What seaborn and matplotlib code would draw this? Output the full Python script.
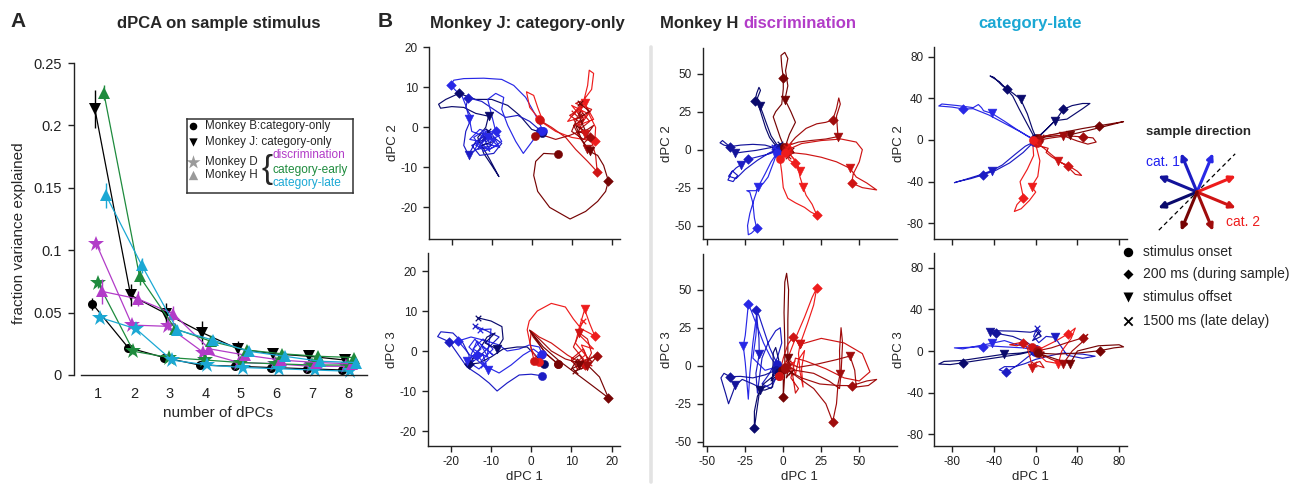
import matplotlib
matplotlib.use('Agg')
import matplotlib.pyplot as plt
import seaborn as sns
import numpy as np

sns.set_style('ticks')
plt.rcParams['font.family'] = ['Liberation Sans', 'DejaVu Sans']
plt.rcParams['axes.unicode_minus'] = False

W, H = 1303, 484

# ---------------- panel A: fraction of variance per dPC ----------------
N_DPC = [1, 2, 3, 4, 5, 6, 7, 8]
B_ONLY = [0.057, 0.022, 0.014, 0.008, 0.007, 0.006, 0.005, 0.004]
J_ONLY = [0.213, 0.064, 0.049, 0.034, 0.021, 0.017, 0.015, 0.012]
D_DISC = [0.105, 0.040, 0.039, 0.018, 0.010, 0.009, 0.007, 0.007]
D_EARLY = [0.074, 0.019, 0.014, 0.012, 0.010, 0.009, 0.008, 0.008]
D_LATE = [0.046, 0.037, 0.012, 0.008, 0.006, 0.005, 0.004, 0.003]
H_DISC = [0.067, 0.061, 0.049, 0.021, 0.016, 0.012, 0.010, 0.009]
H_EARLY = [0.226, 0.079, 0.037, 0.027, 0.020, 0.017, 0.015, 0.014]
H_LATE = [0.144, 0.088, 0.036, 0.028, 0.019, 0.015, 0.011, 0.010]

B_ERR = [0.005, 0.003, 0.002, 0.001, 0.001, 0.001, 0.001, 0.001]
J_ERR = [0.015, 0.009, 0.009, 0.009, 0.006, 0.004, 0.003, 0.002]
D_DISC_ERR = [0.004, 0.003, 0.003, 0.002, 0.001, 0.001, 0.001, 0.001]
D_EARLY_ERR = [0.004, 0.002, 0.002, 0.001, 0.001, 0.001, 0.001, 0.001]
D_LATE_ERR = [0.003, 0.002, 0.001, 0.001, 0.001, 0.001, 0.001, 0.001]
H_DISC_ERR = [0.010, 0.006, 0.006, 0.004, 0.002, 0.002, 0.002, 0.001]
H_EARLY_ERR = [0.006, 0.007, 0.004, 0.003, 0.002, 0.002, 0.002, 0.002]
H_LATE_ERR = [0.010, 0.006, 0.004, 0.003, 0.002, 0.002, 0.002, 0.002]

DISC_C = '#b23cc8'
EARLY_C = '#1e8b3d'
LATE_C = '#1ba8d4'

# ---------------- panel B: trajectories ----------------
# each trajectory: (direction index, onset->200ms, ->stimulus offset, ->1500ms)
DIR_COLORS = ['#2828e6', '#1c1cc4', '#13139a', '#0a0a6c',
              '#ee1c1c', '#cf1414', '#a00c0c', '#760404']
ARROW_ANGLES = [67.5, 112.5, 157.5, 202.5, 22.5, 337.5, 292.5, 247.5]
BOUNDARY_ANGLE = 45

J12 = [
    (0, [(2.9, -1.0), (1.0, 3.0), (-1.5, 7.5), (-4.5, 10.5), (-7.5, 12.0), (-12.0, 12.3), (-17.0, 12.2), (-19.5, 11.8), (-20.3, 10.6)],
        [(-19.0, 9.2), (-17.5, 8.0), (-16.5, 5.5), (-15.6, 2.2)],
        [(-15.0, -1.0), (-12.5, -2.0), (-14.0, -4.5), (-11.0, -5.5), (-9.0, -3.0), (-12.0, -2.5), (-10.5, -6.0), (-13.0, -3.5),
         (-15.5, -3.0), (-13.0, -0.5), (-10.0, -1.5), (-8.0, -5.0), (-11.5, -4.0), (-14.5, -6.0), (-12.0, -1.5)]),
    (3, [(2.5, -1.3), (0.0, -0.5), (-3.0, 3.0), (-6.0, 5.5), (-10.0, 7.0), (-14.0, 7.0), (-18.2, 8.5)],
        [(-21.5, 7.0), (-23.3, 5.8), (-22.8, 4.8), (-20.0, 5.2), (-17.0, 5.0), (-14.0, 3.5), (-10.8, 2.8)],
        [(-11.5, 0.0), (-13.5, -2.5), (-12.0, -6.5), (-10.0, -9.5), (-8.2, -12.3), (-10.5, -8.0), (-12.5, -4.5), (-9.5, -3.5), (-11.0, -1.0)]),
    (1, [(2.2, -0.8), (-0.5, 1.5), (-3.5, 3.0), (-6.5, 2.5), (-9.5, 4.5), (-12.5, 6.5), (-15.9, 7.4)],
        [(-16.5, 5.0), (-15.0, 2.5), (-16.5, -1.0), (-17.0, -4.5), (-15.8, -6.9)],
        [(-14.0, -3.5), (-11.5, -2.0), (-13.5, -5.5), (-10.0, -4.5), (-12.5, -1.5), (-9.5, -2.5), (-7.5, -4.0), (-9.5, -6.5),
         (-13.0, -7.0), (-15.0, -4.5), (-12.0, -3.0)]),
    (0, [(2.7, -1.0), (0.5, -3.0), (-2.1, -6.5), (-4.0, -3.5), (-6.0, 0.5), (-7.5, 4.5), (-7.0, 7.5), (-9.0, 8.5), (-11.0, 7.0), (-10.0, 3.0), (-9.0, -1.0)],
        [(-7.5, -3.5), (-10.5, -5.5), (-13.0, -4.5), (-11.0, -2.5)],
        [(-8.5, -4.5), (-12.0, -6.0), (-14.5, -2.5), (-11.5, -0.5), (-8.0, -2.0), (-10.0, -3.0)]),
    (4, [(1.9, 2.1), (-0.5, 5.0), (-1.3, 8.9), (0.5, 8.0), (1.5, 5.0), (3.0, 1.0), (6.0, -1.0), (10.0, -2.5), (13.0, -3.0), (15.8, -3.4)],
        [(16.0, 0.0), (14.5, 3.0), (13.3, 6.0)],
        [(11.0, 4.0), (9.0, 1.5), (12.5, 2.5), (10.0, 5.5), (14.0, 3.5), (11.5, 0.5), (15.5, 2.0), (13.0, 6.5), (14.0, 10.5), (14.4, 14.3), (15.5, 13.5), (15.0, 9.5), (13.5, 7.5), (12.0, 4.5)]),
    (5, [(2.0, 1.8), (5.0, 0.0), (8.5, -2.5), (11.0, -5.5), (14.0, -8.5), (16.4, -11.1)],
        [(16.0, -7.0), (15.0, -3.5), (13.3, -1.6)],
        [(11.5, 1.0), (13.0, 3.0), (10.5, 2.0), (12.0, -0.5), (14.5, 1.5), (12.0, 4.5), (9.5, 3.0), (12.5, 1.0),
         (15.0, 4.5), (11.0, 6.0), (13.5, 7.0), (10.5, 3.5)]),
    (6, [(0.8, -2.2), (3.0, -2.0), (6.0, -3.0), (9.5, -2.0), (12.0, -1.0), (14.5, -2.5)],
        [(13.0, -4.0), (13.9, -5.3)],
        [(12.0, -2.5), (10.5, 0.5), (13.0, 2.0), (11.5, -1.5), (14.0, -0.5), (15.5, 0.5), (13.0, -3.0), (10.0, -1.0), (12.5, 5.0), (12.0, 3.0)]),
    (7, [(6.7, -6.7), (3.0, -6.5), (1.0, -8.5), (0.5, -12.0), (1.5, -16.0), (4.5, -20.0), (9.6, -22.9), (13.5, -21.0), (16.5, -18.5), (18.5, -16.0), (19.2, -13.4)],
        [(18.0, -9.5), (16.5, -7.0), (14.5, -6.0)],
        [(12.5, -3.0), (11.0, 0.5), (13.5, -1.0), (12.0, 2.5), (14.5, 4.0), (12.0, 6.0)]),
]

J13 = [
    (0, [(2.7, -0.8), (2.0, 1.0), (-0.5, 1.5), (-3.0, 0.5), (-6.0, 0.0), (-8.0, 1.5), (-11.0, 2.5), (-15.0, 3.5), (-18.2, 2.5)],
        [(-16.5, 0.5), (-14.5, -2.0), (-12.0, -1.0), (-10.8, -4.8)],
        [(-12.5, -2.5), (-9.5, 0.5), (-12.0, 3.0), (-14.5, 0.5), (-11.0, -1.5), (-10.0, 5.5), (-12.7, 5.3)]),
    (1, [(2.7, -6.2), (0.0, -5.8), (-3.0, -6.0), (-6.0, -8.0), (-8.5, -10.0), (-10.5, -8.0), (-13.0, -6.0), (-16.0, -4.0), (-20.4, 2.3)],
        [(-23.3, 3.6), (-22.5, 4.8), (-19.5, 4.5), (-17.0, 2.0), (-15.5, -1.0), (-15.4, -3.3)],
        [(-13.0, -1.5), (-10.5, 1.0), (-8.0, 3.5), (-11.0, 5.0), (-14.1, 6.3)]),
    (3, [(3.1, -3.3), (1.0, -1.0), (-1.0, 1.0), (-3.5, 1.0), (-7.0, 0.5), (-10.0, -1.5), (-13.0, -3.0), (-15.4, -3.3)],
        [(-14.0, -1.0), (-12.5, 1.0), (-11.0, 3.5), (-9.0, 4.5), (-11.5, 2.0), (-8.5, 0.5)],
        [(-7.0, 3.0), (-7.3, 6.1), (-10.0, 7.5), (-13.3, 8.3)]),
    (0, [(2.5, -1.0), (0.5, 0.5), (-2.0, -1.0), (-5.0, -3.5), (-8.0, -5.5), (-11.0, -4.0), (-13.5, -1.0)],
        [(-15.5, 1.0), (-14.0, 3.0), (-12.5, 0.5), (-16.0, -2.5)],
        [(-13.0, -4.5), (-10.5, -2.0), (-12.5, 1.5), (-9.5, -1.0), (-13.5, 2.5), (-15.0, -1.0), (-12.0, -3.5)]),
    (4, [(1.9, -2.8), (0.0, 0.5), (-1.0, 5.3), (-0.5, 7.5), (1.5, 10.0), (5.0, 11.9), (8.5, 11.0), (10.5, 8.0), (12.5, 5.5), (15.8, 3.8)],
        [(14.5, 7.0), (13.3, 10.4)],
        [(12.0, 6.0), (11.0, 2.0), (13.5, -1.0), (11.0, -3.0), (14.0, -2.0), (12.5, 1.5), (15.5, 0.5), (11.5, 4.5), (13.0, 7.5)]),
    (5, [(0.7, -2.4), (-0.3, 2.0), (0.0, 5.0), (2.0, 3.5), (5.0, 2.0), (9.0, -1.0), (11.5, -2.5), (13.5, -3.5)],
        [(15.0, -0.5), (14.0, 3.0), (12.0, 4.5)],
        [(10.5, 1.0), (13.0, -2.0), (11.5, -4.5), (10.0, -2.0), (13.0, 0.5), (14.5, -3.0)]),
    (6, [(6.7, -3.3), (4.0, -1.0), (0.5, 3.5), (-0.4, 5.2), (2.5, 2.5), (5.0, 0.0), (8.5, -2.0), (12.0, -3.0), (16.4, -1.2)],
        [(15.0, -3.0), (13.9, -3.75)],
        [(12.0, -1.0), (10.0, -2.5), (12.5, -4.5), (14.5, -2.0)]),
    (7, [(6.7, -3.3), (3.5, -0.5), (-0.4, 5.2), (3.0, 1.0), (7.0, -2.5), (11.0, -5.5), (15.0, -8.5), (19.2, -11.7)],
        [(17.0, -6.5), (14.5, -4.0), (12.0, -3.5)],
        [(10.0, -4.5), (11.5, -2.0), (13.5, -4.0), (11.0, -5.0)]),
]

H12 = [
    (3, [(-3.0, 1.0), (-6.0, 4.0), (-9.0, 8.0), (-11.5, 14.0), (-14.0, 22.0), (-16.5, 30.0), (-18.6, 32.0)],
        [(-17.5, 37.0), (-16.0, 41.0), (-15.0, 39.0), (-17.0, 34.0), (-15.3, 28.7)],
        [(-13.5, 24.0), (-11.0, 17.0), (-8.0, 9.0), (-4.0, 3.0), (-1.0, -2.0), (-5.0, 0.0), (-2.0, 4.0)]),
    (2, [(-5.0, 1.0), (-12.0, 3.0), (-20.0, 3.5), (-28.0, 3.0), (-35.0, 2.0)],
        [(-39.0, 3.0), (-41.6, 4.5), (-40.0, 6.0), (-37.0, 3.5), (-34.0, 0.5), (-31.6, -2.3)],
        [(-26.0, -1.5), (-18.0, -0.5), (-10.0, 1.0), (-4.0, 2.0), (-7.0, -1.0), (-3.0, -3.0)]),
    (1, [(-4.0, -1.0), (-10.0, -3.0), (-16.0, -4.5), (-23.0, -6.3)],
        [(-26.0, -8.0), (-28.0, -10.0)],
        [(-31.0, -12.0), (-34.0, -15.0), (-36.4, -20.0), (-33.0, -21.0), (-30.0, -17.0), (-33.5, -14.0), (-36.0, -17.5), (-31.0, -19.0), (-25.0, -13.0), (-17.0, -7.0), (-9.0, -2.0), (-4.0, 0.0)]),
    (0, [(-4.0, -2.0), (-7.0, -10.0), (-10.0, -18.0), (-13.0, -22.0), (-18.0, -27.0), (-24.0, -27.0), (-22.0, -28.0), (-20.0, -35.0), (-19.0, -45.0), (-17.5, -51.7)],
        [(-21.0, -55.0), (-23.0, -56.0), (-23.5, -50.0), (-22.0, -42.0), (-19.0, -32.0), (-16.4, -24.3)],
        [(-12.0, -16.0), (-8.0, -8.0), (-4.0, -2.0), (-6.0, 2.0)]),
    (7, [(0.5, 2.0), (-2.0, 8.0), (-6.6, 21.6), (-5.0, 25.0), (-1.0, 30.0), (0.0, 40.0), (0.0, 47.4)],
        [(-1.0, 55.0), (-1.5, 62.0), (1.0, 64.0), (3.0, 60.0), (1.5, 52.0), (3.0, 42.0), (1.1, 33.0)],
        [(5.0, 25.0), (8.0, 18.0), (4.0, 10.0), (2.0, 4.0), (5.0, 0.0)]),
    (6, [(2.0, 1.0), (8.0, 8.0), (15.0, 14.0), (22.0, 17.0), (28.0, 18.0), (32.5, 19.5)],
        [(35.0, 27.0), (36.5, 34.0), (37.5, 30.0), (35.0, 22.0), (36.0, 8.6)],
        [(28.0, 7.0), (18.0, 6.0), (10.0, 5.0), (4.0, 3.0), (7.0, -2.0), (3.0, -4.0)]),
    (5, [(3.0, 0.0), (12.0, 4.0), (25.0, 6.0), (38.0, 7.0), (48.0, 5.0), (52.0, 0.0), (50.0, -8.0), (46.0, -16.0), (45.0, -22.0)],
        [(52.0, -25.0), (61.4, -26.5), (55.0, -22.0), (48.0, -18.0), (43.9, -12.3)],
        [(35.0, -8.0), (25.0, -5.0), (15.0, -3.0), (6.0, -2.0), (2.0, 2.0)]),
    (4, [(-2.2, -6.3), (-1.0, -15.0), (0.0, -25.0), (3.0, -32.0), (8.0, -35.0), (14.0, -38.0), (18.0, -41.0), (22.0, -43.0)],
        [(19.0, -36.0), (15.0, -30.0), (13.0, -24.3)],
        [(11.0, -18.0), (9.0, -8.0), (5.0, -4.0), (2.0, -1.0), (4.0, 3.0)]),
    (4, [(1.0, -2.0), (4.0, -7.0), (7.5, -9.0)],
        [(9.5, -11.5), (11.0, -14.0)],
        [(9.0, -9.0), (6.0, -5.0), (3.0, -1.0)]),
]

H13 = [
    (0, [(-3.0, -2.0), (-8.0, 5.0), (-13.0, 15.0), (-18.0, 28.0), (-21.0, 36.0), (-23.0, 40.4)],
        [(-24.0, 30.0), (-25.0, 20.0), (-26.3, 13.0)],
        [(-25.0, 2.0), (-24.0, -10.0), (-23.0, -22.0), (-22.0, -5.0), (-20.0, 15.0), (-18.0, 30.0), (-17.0, 38.0), (-18.0, 20.0), (-20.0, 5.0), (-12.0, -3.0), (-5.0, -1.0)]),
    (1, [(-4.0, 1.0), (-9.0, 12.0), (-13.0, 24.0), (-16.0, 33.0), (-18.0, 36.6)],
        [(-17.0, 28.0), (-16.0, 18.0), (-15.8, 7.6)],
        [(-18.0, -5.0), (-17.0, -18.0), (-16.0, -10.0), (-14.0, 5.0), (-10.0, 15.0), (-5.0, 23.0), (-2.0, 25.0), (-1.0, 15.0), (-4.0, 5.0), (-9.0, -5.0), (-14.0, -12.0), (-8.0, -15.0), (-3.0, -4.0)]),
    (2, [(-5.0, -3.0), (-12.0, -6.0), (-20.0, -8.0), (-28.0, -7.0), (-35.0, -7.2)],
        [(-39.0, -5.0), (-41.0, -8.0), (-38.0, -18.0), (-36.0, -25.0), (-33.0, -17.0), (-31.6, -13.0)],
        [(-27.0, -9.0), (-20.0, -12.0), (-14.0, -15.0), (-8.0, -12.0), (-3.0, -6.0)]),
    (3, [(-3.0, -4.0), (-8.0, -8.0), (-13.0, -12.0), (-17.0, -20.0), (-19.0, -30.0), (-19.0, -41.2)],
        [(-17.5, -30.0), (-15.5, -16.0)],
        [(-12.0, -16.0), (-7.0, -14.0), (-6.6, 8.6), (-5.0, 12.0), (-3.0, 4.0), (-8.0, -10.0), (-4.0, -6.0)]),
    (7, [(-1.0, -3.0), (0.0, -10.0), (0.0, -20.4)],
        [(1.0, -5.0), (1.0, 15.0), (0.5, 35.0), (1.0, 55.0), (2.2, 60.8), (3.5, 50.0), (3.0, 30.0), (3.0, 12.0), (3.0, 5.0)],
        [(4.0, 0.0), (2.0, -8.0), (5.0, -4.0)]),
    (4, [(-2.9, -6.8), (3.0, 5.0), (8.0, 18.0), (14.0, 32.0), (19.0, 45.0), (22.0, 51.0)],
        [(20.0, 40.0), (16.0, 28.0), (11.0, 14.0)],
        [(10.0, 8.0), (11.0, -4.0), (13.0, -14.0), (12.0, -2.0), (14.0, 10.0), (10.0, 4.0), (8.0, -6.0), (6.0, 2.0)]),
    (5, [(-3.0, -7.0), (0.0, 5.0), (3.0, 14.0), (6.6, 19.1)],
        [(9.0, 16.0), (11.0, 14.0)],
        [(25.0, 18.0), (40.0, 15.0), (52.0, 8.0), (57.0, -4.0), (50.0, -10.0), (40.0, -8.0), (28.0, -2.0), (15.0, 3.0), (8.0, 5.0), (5.0, -8.0), (10.0, -15.0), (8.0, -18.0), (6.0, -5.0), (4.0, 0.0)]),
    (6, [(1.0, -2.0), (12.0, -8.0), (24.0, -12.0), (36.0, -13.0), (45.0, -13.1)],
        [(55.0, -10.0), (61.4, -9.0), (56.0, -13.0), (48.0, -14.0), (47.0, -3.0), (43.9, 6.4)],
        [(35.0, 4.0), (22.0, 1.0), (10.0, -1.0), (3.0, 2.0)]),
    (6, [(1.0, -1.0), (10.0, -8.0), (20.0, -15.0), (28.0, -25.0), (32.5, -36.8)],
        [(35.0, -25.0), (36.0, -12.0), (37.3, -5.7)],
        [(37.0, 10.0), (38.0, 25.0), (39.0, 15.0), (38.0, -5.0), (37.0, -15.0), (30.0, -10.0), (20.0, -5.0), (8.0, -3.0), (3.0, 0.0)]),
]

L12 = [
    (0, [(-2.0, 0.0), (-15.0, 8.0), (-30.0, 16.0), (-45.0, 24.0), (-60.0, 30.0), (-69.4, 29.7)],
        [(-80.0, 31.5), (-93.0, 32.6), (-90.0, 34.5), (-75.0, 33.0), (-60.0, 31.0), (-55.0, 34.0), (-52.0, 31.0), (-50.0, 28.0), (-42.2, 25.6)],
        [(-30.0, 18.0), (-18.0, 10.0), (-8.0, 4.0), (-2.0, 1.0)]),
    (3, [(-1.0, 2.0), (-8.0, 15.0), (-16.0, 30.0), (-22.0, 42.0), (-27.8, 48.6)],
        [(-35.0, 56.0), (-43.8, 61.4), (-40.0, 60.0), (-32.0, 52.0), (-22.0, 45.0), (-14.4, 39.0)],
        [(-8.0, 25.0), (-3.0, 10.0), (0.0, 3.0), (-2.0, -1.0)]),
    (3, [(0.0, 1.0), (10.0, 10.0), (20.0, 20.0), (26.5, 29.4)],
        [(35.0, 33.0), (45.0, 35.0), (52.0, 35.0), (45.0, 30.0), (30.0, 20.0), (18.5, 18.5)],
        [(10.0, 10.0), (3.0, 3.0), (0.0, -1.0)]),
    (1, [(-2.0, -2.0), (-12.0, -12.0), (-25.0, -22.0), (-38.0, -29.0), (-50.8, -33.6)],
        [(-62.0, -37.0), (-75.0, -40.0), (-78.0, -41.0), (-68.0, -38.0), (-55.0, -34.0), (-42.2, -29.4)],
        [(-32.0, -24.0), (-20.0, -14.0), (-10.0, -6.0), (0.0, -1.0)]),
    (7, [(2.0, 2.0), (15.0, 5.0), (30.0, 8.0), (45.0, 11.0), (61.0, 13.7)],
        [(72.0, 15.5), (84.3, 17.6), (70.0, 14.0), (50.0, 9.0), (33.0, 5.0)],
        [(20.0, 4.0), (10.0, 3.0), (3.0, 1.0)]),
    (6, [(3.0, 0.0), (15.0, 2.0), (30.0, 4.0), (45.7, 2.9)],
        [(55.0, 2.0), (58.0, -2.0), (50.0, -4.0), (40.0, -1.0), (26.5, 4.0)],
        [(15.0, 5.0), (5.0, 3.0)]),
    (5, [(1.0, -3.0), (8.0, -8.0), (15.0, -14.0), (25.0, -22.0), (31.3, -24.6)],
        [(40.0, -30.0), (44.0, -34.0), (38.0, -33.0), (30.0, -25.0), (21.7, -20.1)],
        [(15.0, -16.0), (10.0, -12.0), (12.0, -8.0), (5.0, -6.0), (2.0, -2.0)]),
    (4, [(-3.0, 0.0), (-2.0, -15.0), (-8.0, -28.0), (-15.0, -40.0), (-11.8, -55.3)],
        [(-18.0, -62.0), (-20.5, -68.6), (-14.0, -66.0), (-6.0, -58.0), (0.0, -50.0), (-4.0, -44.7)],
        [(2.0, -35.0), (4.0, -20.0), (1.0, -8.0), (-1.0, -2.0)]),
]

L13 = [
    (3, [(-2.0, 0.0), (-15.0, -3.0), (-35.0, -6.0), (-55.0, -9.0), (-69.4, -11.2)],
        [(-82.0, -13.0), (-93.0, -12.5), (-88.0, -10.0), (-70.0, -9.0), (-50.0, -6.0), (-30.0, -3.0)],
        [(-15.0, -2.0), (-3.0, 0.0)]),
    (0, [(-1.0, 1.0), (-12.0, 3.0), (-30.0, 4.0), (-45.0, 5.0), (-50.8, 4.2)],
        [(-65.0, 3.5), (-78.0, 3.0), (-70.0, 2.0), (-55.0, 5.0), (-42.2, 7.4)],
        [(-30.0, 10.0), (-18.0, 6.0), (-8.0, 4.0), (-2.0, 2.0)]),
    (2, [(0.0, 2.0), (-8.0, 8.0), (-22.0, 14.0), (-38.0, 17.0)],
        [(-44.0, 18.5)],
        [(-40.0, 19.5), (-20.0, 19.0), (-5.0, 18.0), (2.0, 20.0), (5.0, 14.0), (-3.0, 10.0), (2.0, 17.0)]),
    (1, [(-1.0, -1.0), (-8.0, -6.0), (-18.0, -14.0), (-28.4, -20.5)],
        [(-35.0, -18.0), (-30.0, -15.0), (-20.0, -15.0), (-10.0, -12.0), (0.0, -8.0), (12.0, -5.0), (25.0, -2.0), (45.0, -3.0), (57.0, -5.0), (45.0, -7.0), (30.0, -4.0), (18.5, 13.1)],
        [(10.0, 14.0), (3.0, 8.0), (-2.0, 14.0), (1.0, 21.7)]),
    (4, [(2.0, 1.0), (10.0, 5.0), (20.0, 10.0), (30.7, 16.3)],
        [(38.0, 22.0), (34.0, 12.0), (25.0, 0.0), (21.7, -12.0)],
        [(10.0, -10.0), (2.0, -3.0)]),
    (5, [(-3.2, 3.8), (-8.0, 6.0), (-12.5, 7.4)],
        [(-18.0, 5.0), (-25.0, 6.0), (-15.0, 8.0), (-8.0, 3.0), (-5.0, -8.0), (-3.2, -16.6)],
        [(2.0, -14.0), (8.0, -16.0), (4.0, -10.0), (-2.0, -12.0)]),
    (6, [(1.0, 0.0), (15.0, 3.0), (30.0, 8.0), (45.7, 12.8)],
        [(50.0, 16.0), (44.0, 8.0), (35.0, 0.0), (26.5, -12.0)],
        [(15.0, -8.0), (5.0, -3.0)]),
    (7, [(2.0, -2.0), (20.0, -3.0), (40.0, -2.0), (61.7, 0.3)],
        [(75.0, 3.0), (84.3, 4.0), (80.0, 6.0), (60.0, 5.0), (40.0, 0.0), (33.0, -12.0)],
        [(20.0, -8.0), (5.0, -3.0)]),
]

J_TICKS = [-20, -10, 0, 10, 20]
H_TICKS = [-50, -25, 0, 25, 50]
L_TICKS = [-80, -40, 0, 40, 80]

MARK_LABELS = ['stimulus onset', '200 ms (during sample)', 'stimulus offset', '1500 ms (late delay)']


def px_axes(fig, l, t, r, b):
    return fig.add_axes([l / W, 1 - b / H, (r - l) / W, (b - t) / H])


def draw_variance(ax):
    series = [
        (B_ONLY, B_ERR, 'black', 'o', 6.5, -0.16),
        (J_ONLY, J_ERR, 'black', 'v', 8.5, -0.09),
        (D_DISC, D_DISC_ERR, DISC_C, '*', 12, -0.05),
        (D_EARLY, D_EARLY_ERR, EARLY_C, '*', 12, -0.01),
        (D_LATE, D_LATE_ERR, LATE_C, '*', 12, 0.06),
        (H_DISC, H_DISC_ERR, DISC_C, '^', 8.5, 0.11),
        (H_EARLY, H_EARLY_ERR, EARLY_C, '^', 8.5, 0.16),
        (H_LATE, H_LATE_ERR, LATE_C, '^', 8.5, 0.22),
    ]
    for vals, errs, col, mk, ms, off in series:
        xs = [n + off for n in N_DPC]
        ax.vlines(xs, [v - e for v, e in zip(vals, errs)], [v + e for v, e in zip(vals, errs)],
                  color=col, lw=1.0, clip_on=False)
        sns.lineplot(x=xs, y=vals, color=col, marker=mk, markersize=ms, markeredgewidth=0,
                     lw=0.9, sort=False, estimator=None, clip_on=False, ax=ax)
    ax.set_xlim(0.52, 8.53)
    ax.set_ylim(0, 0.25)
    ax.set_xticks(N_DPC)
    ax.set_yticks([0, 0.05, 0.1, 0.15, 0.2, 0.25])
    ax.set_yticklabels(['0', '0.05', '0.1', '0.15', '0.2', '0.25'])
    ax.tick_params(axis='y', length=4, width=1, pad=5, labelsize=10.5, colors='#222222')
    ax.tick_params(axis='x', length=0, pad=9, labelsize=10.5, colors='#222222')
    sns.despine(ax=ax)
    ax.spines['left'].set_position(('outward', 5))
    for s in ['left', 'bottom']:
        ax.spines[s].set_linewidth(1)
        ax.spines[s].set_color('#222222')
    ax.set_xlabel('')
    ax.set_ylabel('')


def draw_traj(ax, trajs):
    for ci, a, b, c in trajs:
        pts = a + b + c
        sns.lineplot(x=[p[0] for p in pts], y=[p[1] for p in pts], sort=False, estimator=None,
                     color=DIR_COLORS[ci], lw=0.85, ax=ax)
    for ci, a, b, c in trajs:
        col = DIR_COLORS[ci]
        for pt, mk, s in [(a[0], 'o', 34), (a[-1], 'D', 24), (b[-1], 'v', 40), (c[-1], 'x', 16)]:
            sns.scatterplot(x=[pt[0]], y=[pt[1]], marker=mk, s=s, color=col, edgecolor=col,
                            linewidth=0.9 if mk == 'x' else 0.4, zorder=3, ax=ax)


def style_traj(ax, xlim, ylim, ticks, xlabel, ylabel):
    ax.set_xlim(*xlim)
    ax.set_ylim(*ylim)
    ax.set_xticks(ticks)
    ax.set_yticks(ticks)
    ax.tick_params(length=4, width=1, labelsize=8.5, colors='#222222')
    ax.tick_params(axis='y', pad=4)
    if xlabel:
        ax.set_xlabel(xlabel, fontsize=9.5, labelpad=2)
    else:
        ax.set_xlabel('')
        ax.set_xticklabels([])
    ax.set_ylabel(ylabel, fontsize=9.5, labelpad=1)
    sns.despine(ax=ax)
    for s in ['left', 'bottom']:
        ax.spines[s].set_linewidth(1)
        ax.spines[s].set_color('#222222')


fig = plt.figure(figsize=(W / 100, H / 100), dpi=100)

# ---- panel A ----
axA = px_axes(fig, 81, 63, 367, 375)
draw_variance(axA)
fig.text(18 / W, 1 - 27 / H, 'A', fontsize=15, fontweight='bold', va='baseline', ha='center')
fig.text(219 / W, 1 - 28 / H, 'dPCA on sample stimulus', fontsize=12, fontweight='bold',
         ha='center', va='baseline')
fig.text(218 / W, 1 - 413 / H, 'number of dPCs', fontsize=11, ha='center', va='center')
fig.text(19 / W, 1 - 233 / H, 'fraction variance explained', fontsize=11, rotation=90,
         ha='center', va='center')

# legend box of panel A
axL = px_axes(fig, 186.7, 119.3, 352.7, 193.3)
axL.set_xlim(0, 166)
axL.set_ylim(74, 0)
axL.set_xticks([])
axL.set_yticks([])
for s in axL.spines.values():
    s.set_visible(True)
    s.set_linewidth(1.1)
    s.set_color('#333333')
leg_rows = [('o', 'black', 30, 6.9, 'Monkey B:category-only'),
            ('v', 'black', 36, 22.4, 'Monkey J: category-only'),
            ('*', '#9a9a9a', 110, 42.4, 'Monkey D'),
            ('^', '#9a9a9a', 45, 55.7, 'Monkey H')]
for mk, col, s, y, lab in leg_rows:
    sns.scatterplot(x=[6.7], y=[y], marker=mk, s=s, color=col, linewidth=0, ax=axL)
    axL.text(18.3, y, lab, fontsize=8.4, va='center', ha='left')
axL.text(80, 50.0, '{', fontsize=24, va='center', ha='center')
for y, lab, col in [(35.7, 'discrimination', DISC_C), (50.7, 'category-early', EARLY_C),
                    (63.4, 'category-late', LATE_C)]:
    axL.text(86, y, lab, fontsize=8.6, va='center', ha='left', color=col)
axL.set_xlabel('')
axL.set_ylabel('')

# ---- panel B ----
fig.text(385 / W, 1 - 27 / H, 'B', fontsize=15, fontweight='bold', va='baseline', ha='center')
fig.text(527 / W, 1 - 28 / H, 'Monkey J: category-only', fontsize=12, fontweight='bold',
         ha='center', va='baseline')
fig.text(660 / W, 1 - 28 / H, 'Monkey H', fontsize=12, fontweight='bold', ha='left', va='baseline')
fig.text(743 / W, 1 - 28 / H, 'discrimination', fontsize=12, fontweight='bold', ha='left',
         va='baseline', color=DISC_C)
fig.text(1030.5 / W, 1 - 28 / H, 'category-late', fontsize=12, fontweight='bold', ha='center',
         va='baseline', color=LATE_C)

panels = [
    ((429, 47, 620, 239), J12, (-25.7, 22.1), (-27.9, 20.1), J_TICKS, None, 'dPC 2'),
    ((428, 253, 620, 446), J13, (-25.7, 22.1), (-23.75, 24.5), J_TICKS, 'dPC 1', 'dPC 3'),
    ((702.7, 48, 897, 239), H12, (-53, 74.8), (-58.8, 66.9), H_TICKS, None, 'dPC 2'),
    ((702.7, 254, 897, 446), H13, (-53, 74.8), (-52.8, 73.5), H_TICKS, 'dPC 1', 'dPC 3'),
    ((934.3, 47.3, 1127, 239), L12, (-97.3, 87.6), (-95, 88.9), L_TICKS, None, 'dPC 2'),
    ((934.3, 253, 1127, 446), L13, (-97.3, 87.6), (-91.1, 94), L_TICKS, 'dPC 1', 'dPC 3'),
]
for box, trajs, xlim, ylim, ticks, xlab, ylab in panels:
    ax = px_axes(fig, *box)
    draw_traj(ax, trajs)
    style_traj(ax, xlim, ylim, ticks, xlab, ylab)

# separator between monkeys
fig.add_artist(plt.Line2D([651 / W, 651 / W], [1 - 47 / H, 1 - 482 / H], color='#e3e3e3',
                          lw=2.6, transform=fig.transFigure))

# ---- direction key and marker key ----
axK = px_axes(fig, 1110, 110, 1303, 335)
axK.set_xlim(1110, 1303)
axK.set_ylim(335, 110)
axK.axis('off')
axK.text(1198.5, 135, 'sample direction', fontsize=9.5, fontweight='bold', ha='center', va='baseline')
cx, cy, arrow_len = 1197, 192, 42
bd = np.deg2rad(BOUNDARY_ANGLE)
sns.lineplot(x=[cx - 54 * np.cos(bd), cx + 54 * np.cos(bd)], y=[cy + 54 * np.sin(bd), cy - 54 * np.sin(bd)],
             color='black', lw=0.9, linestyle=(0, (3.5, 2.5)), sort=False, estimator=None, ax=axK)
for ang, col in zip(ARROW_ANGLES, DIR_COLORS):
    a = np.deg2rad(ang)
    axK.annotate('', xy=(cx + arrow_len * np.cos(a), cy - arrow_len * np.sin(a)), xytext=(cx, cy),
                 arrowprops=dict(arrowstyle='-|>', color=col, lw=2.2, mutation_scale=9,
                                 shrinkA=0, shrinkB=0))
axK.text(1146, 162.5, 'cat. 1', fontsize=10, color='#2020f0', ha='left', va='center')
axK.text(1226.5, 222.5, 'cat. 2', fontsize=10, color='#ee1c1c', ha='left', va='center')
for mk, s, y, lab in zip(['o', 'D', 'v', 'x'], [46, 26, 52, 36], [251.7, 274, 297.3, 320.7], MARK_LABELS):
    sns.scatterplot(x=[1128.3], y=[y], marker=mk, s=s, color='black', edgecolor='black',
                    linewidth=1.3 if mk == 'x' else 0, ax=axK)
    axK.text(1142.7, y, lab, fontsize=10, ha='left', va='center')
axK.set_xlabel('')
axK.set_ylabel('')

fig.savefig('out.png', dpi=100)
